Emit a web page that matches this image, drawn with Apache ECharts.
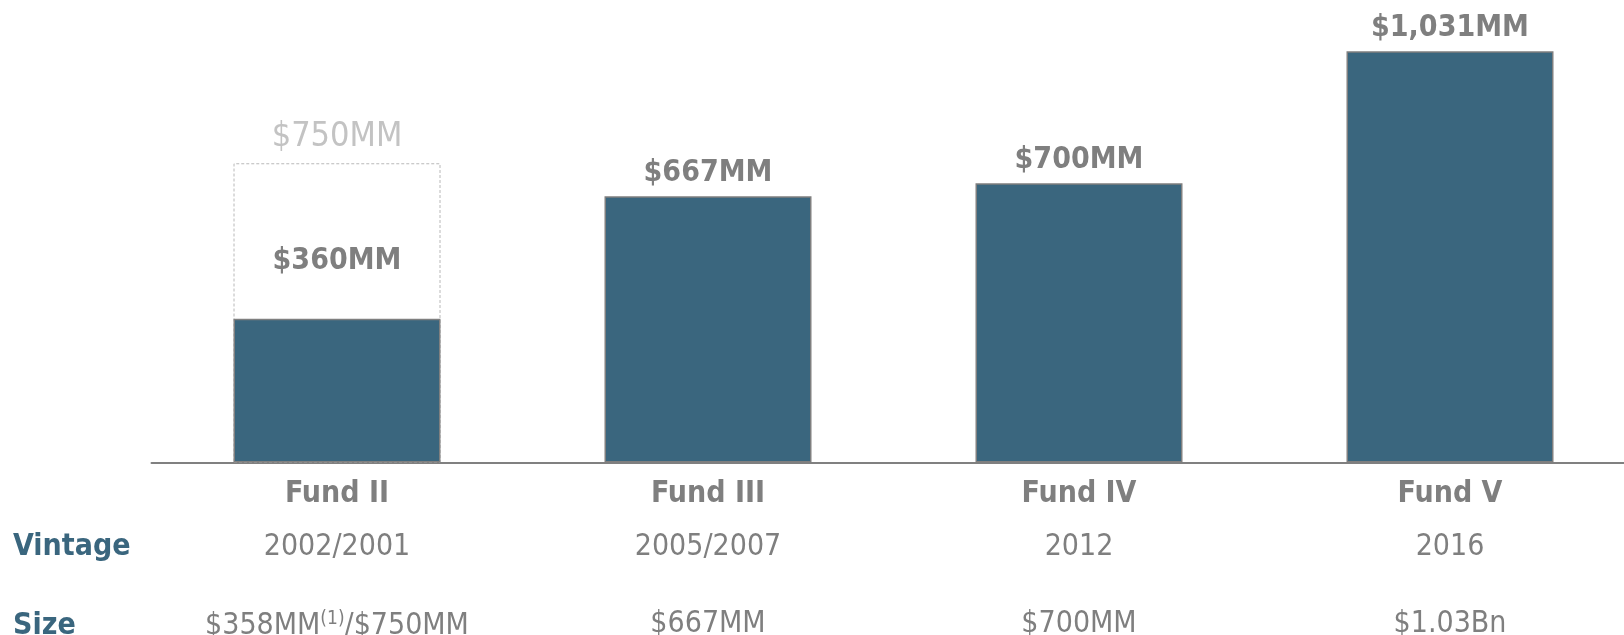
<!DOCTYPE html>
<html>
<head>
<meta charset="utf-8">
<script src="https://cdn.jsdelivr.net/npm/echarts@6/dist/echarts.min.js"></script>
<style>
  html, body { margin: 0; padding: 0; background: #ffffff; }
  #chart { width: 1624px; height: 635px; }
</style>
</head>
<body>
<div id="chart"></div>
<script>
// ---- data ----
const funds = ['Fund II', 'Fund III', 'Fund IV', 'Fund V'];
const vintages = ['2002/2001', '2005/2007', '2012', '2016'];
const sizeLabels = ['$358MM{sup|(1)}/$750MM', '$667MM', '$700MM', '$1.03Bn'];
const fundSize = [360, 667, 700, 1031];            // filled bars ($MM)
const fundSizeLabels = ['$360MM', '$667MM', '$700MM', '$1,031MM'];
const targetSize = [750, null, null, null];       // dashed outline ($MM)
const targetSizeLabels = ['$750MM', '', '', ''];
const rowHeaders = ['Vintage', 'Size'];

const FONT = "'DejaVu Sans Condensed', 'DejaVu Sans', sans-serif";
const GREY = '#7f7f7f';
const BLUE = '#3a667e';

const chart = echarts.init(document.getElementById('chart'), null, { renderer: 'canvas' });

function catAxis(labels, margin, weight, rich, showLine) {
  return {
    type: 'category',
    data: labels,
    position: 'bottom',
    axisLine: { show: showLine, lineStyle: { color: '#808080', width: 2 } },
    axisTick: { show: false },
    axisLabel: {
      margin: margin,
      fontFamily: FONT,
      fontSize: 30,
      fontWeight: weight,
      color: GREY,
      interval: 0,
      rich: rich || {}
    }
  };
}

const option = {
  animation: false,
  backgroundColor: '#ffffff',
  grid: { left: 151.5, right: -11.5, top: 23.6, bottom: 172.5, containLabel: false, outerBoundsMode: 'none' },
  xAxis: [
    catAxis(funds, 17, 'bold', null, true),
    catAxis(vintages, 70, 'normal', null, false),
    catAxis(sizeLabels, 147, 'normal', {
      sup: { fontFamily: FONT, fontSize: 19, color: GREY, verticalAlign: 'top', padding: [0, 0, 14, 0] }
    }, false)
  ],
  yAxis: { type: 'value', min: 0, max: 1100, show: false, splitLine: { show: false } },
  graphic: rowHeaders.map((t, i) => ({
    type: 'text',
    left: 13,
    top: i === 0 ? 532 : 611,
    style: { text: t, fontFamily: FONT, fontSize: 30, fontWeight: 'bold', fill: BLUE }
  })),
  series: [
    {
      type: 'bar',
      xAxisIndex: 0,
      data: targetSize,
      barWidth: 207,
      barGap: '-100%',
      itemStyle: { color: 'rgba(255,255,255,0)', borderColor: '#b8b8b8', borderType: [3, 2], borderWidth: 1 },
      label: {
        show: true, position: 'top', distance: 9,
        fontFamily: FONT, fontSize: 34, color: '#c3c3c3',
        formatter: p => targetSizeLabels[p.dataIndex]
      },
      z: 1
    },
    {
      type: 'bar',
      xAxisIndex: 0,
      data: fundSize,
      barWidth: 207,
      itemStyle: { color: BLUE, borderColor: '#7f7f7f', borderWidth: 1.5 },
      label: {
        show: true, position: 'top',
        fontFamily: FONT, fontSize: 30, fontWeight: 'bold', color: GREY,
        formatter: p => fundSizeLabels[p.dataIndex],
        distance: 8
      },
      labelLayout: (params) => params.dataIndex === 0 ? { dy: -35 } : {},
      z: 2
    }
  ]
};
chart.setOption(option);
</script>
</body>
</html>
